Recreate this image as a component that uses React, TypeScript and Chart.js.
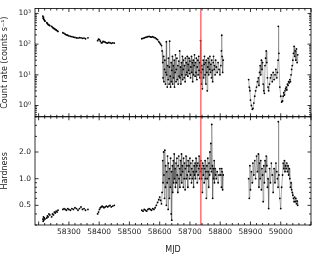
import React, { useEffect, useRef } from "react";
import { Chart, registerables } from "chart.js";

Chart.register(...registerables);

// MJD of each observation (null values in the series break the line at gaps)
const mjd = [
  58214, 58215, 58216, 58217, 58219, 58221, 58224,
  58227, 58229, 58231, 58234, 58237, 58240,
  58243, 58246, 58249, 58252, 58255, 58258, 58261, 58264, 58272,
  58280, 58284, 58288, 58292, 58296, 58300, 58305, 58310, 58315, 58320, 58325, 58330, 58335, 58340, 58345, 58350, 58355, 58359,
  58363, 58380,
  58395, 58398, 58401, 58404, 58407, 58410, 58413, 58416, 58420, 58424, 58428, 58432, 58436, 58440, 58445, 58450, 58500,
  58541, 58545, 58549, 58553, 58557, 58561, 58565, 58569, 58573, 58577, 58581, 58585, 58589, 58593, 58597, 58600, 58603, 58606,
  58608, 58610, 58611, 58613, 58614, 58616, 58617, 58619, 58620, 58622, 58623, 58625, 58626, 58628, 58629, 58631, 58632, 58633,
  58635, 58636, 58638, 58639, 58640, 58642, 58643, 58645, 58646, 58648, 58649, 58651, 58652, 58654, 58655, 58657, 58658, 58660,
  58661, 58663, 58664, 58666, 58667, 58669, 58670, 58672, 58673, 58675, 58676, 58678, 58679, 58681, 58682, 58684, 58685, 58687,
  58688, 58690, 58691, 58693, 58694, 58696, 58697, 58699, 58700, 58702, 58703, 58705, 58706, 58708, 58709, 58711, 58712, 58714,
  58715, 58717, 58718, 58720, 58721, 58723, 58724, 58726, 58727, 58729, 58730, 58732, 58733, 58735, 58736, 58738, 58739, 58741,
  58742, 58744, 58745, 58747, 58748, 58750, 58751, 58753, 58754, 58756, 58757, 58759, 58760, 58762, 58763, 58765, 58766, 58768,
  58769, 58771, 58772, 58774, 58775, 58777, 58778, 58780, 58781, 58783, 58785, 58787, 58790, 58793, 58796, 58799, 58802, 58804,
  58805, 58806, 58808, 58810, 58850,
  58894, 58896, 58898, 58900, 58903, 58906, 58908, 58911, 58914, 58917, 58920, 58923, 58926, 58928, 58930, 58932, 58934, 58936,
  58938, 58940, 58942, 58944, 58946, 58948, 58950, 58952, 58954, 58956, 58958, 58960, 58963, 58966, 58969, 58972, 58975, 58978,
  58981, 58984, 58987, 58989, 58991, 58992, 58994, 58997, 59000, 59003, 59006, 59008, 59010, 59012, 59014, 59016, 59018, 59020,
  59022, 59024, 59026, 59028, 59030, 59032, 59034, 59036, 59038, 59040, 59042, 59044, 59046, 59048, 59050, 59052, 59054, 59056,
];

// Count rate (counts s^-1)
const rate = [
  820, 700, 760, 650, 600, 560, null,
  500, 470, 440, 420, 400, null,
  380, 350, 330, 320, 300, 290, 275, 260, null,
  235, 225, 210, 200, 195, 185, 180, 175, 170, 165, 160, 158, 162, 160, 155, 157, 150, null,
  160, null,
  130, 145, 140, 125, 110, 112, 122, 120, 115, 110, 108, 114, 110, 106, 110, 108, null,
  150, 155, 160, 165, 170, 175, 180, 172, 168, 175, 165, 160, 150, 140, 120, 110, 100, 90,
  60, 25, 8, 40, 6, 15, 30, 5, 12, 120, 10, 4, 20, 7, 35, 5, 18, 125,
  9, 4, 25, 6, 14, 40, 5, 20, 8, 30, 4, 12, 45, 6, 15, 35, 7, 20,
  5, 28, 9, 60, 8, 18, 5, 25, 10, 40, 7, 15, 30, 8, 20, 6, 35, 10,
  25, 12, 40, 9, 22, 14, 35, 11, 28, 8, 18, 40, 12, 25, 6, 30, 10, 20,
  45, 9, 25, 12, 35, 7, 18, 30, 10, 40, 14, 25, 8, 130, 12, 5, 20, 3.5,
  15, 30, 8, 22, 40, 10, 25, 5, 30, 12, 3, 18, 35, 10, 25, 15, 40, 12,
  22, 8, 30, 14, 6, 25, 40, 15, 20, 10, 30, 18, 12, 25, 15, 10, 20, 60,
  195, 40, 12, 30, null,
  7, 4, 3, 1.5, 1.0, 0.75, 0.8, 1.2, 2.0, 3, 4, 6, 8, 4.5, 12, 20, 10, 30,
  15, 25, 5, 3, 2.5, 20, 35, 60, 25, 8, 4, 3, 5, 8, 10, 6, 12, 7,
  10, 15, 8, 12, 30, 380, 50, 4, 2, 1.3, 1.4, 2, 2.6, 2.2, 3, 3.5, 4, 3.2,
  5, 4.5, 6, 5.5, 7, 6, 10, 15, 20, 30, 50, 85, 40, 60, 30, 70, 25, 45,
];

// Hardness ratio
const hardness = [
  0.35, 0.33, 0.37, 0.34, 0.36, 0.35, null,
  0.36, 0.38, 0.37, 0.40, 0.39, null,
  0.37, 0.40, 0.39, 0.42, 0.41, 0.43, 0.42, 0.44, null,
  0.45, 0.46, 0.45, 0.44, 0.46, 0.45, 0.44, 0.46, 0.45, 0.47, 0.46, 0.44, 0.46, 0.48, 0.45, 0.46, 0.44, null,
  0.45, null,
  0.40, 0.42, 0.45, 0.47, 0.48, 0.49, 0.48, 0.47, 0.48, 0.49, 0.48, 0.49, 0.50, 0.48, 0.49, 0.50, null,
  0.44, 0.43, 0.45, 0.44, 0.43, 0.45, 0.46, 0.45, 0.44, 0.46, 0.45, 0.47, 0.50, 0.54, 0.58, 0.62, 0.57, 0.52,
  0.7, 1.6, 0.9, 2.0, 1.1, 0.6, 2.1, 0.8, 1.4, 0.5, 1.2, 0.9, 1.8, 0.45, 1.5, 1.0, 0.6, 1.3,
  0.8, 1.7, 0.4, 1.2, 0.34, 1.4, 0.7, 1.6, 0.9, 1.9, 1.0, 1.3, 0.8, 1.5, 0.9, 1.7, 1.1, 0.7,
  1.4, 1.8, 1.0, 1.3, 0.8, 1.6, 1.1, 1.9, 0.9, 1.4, 1.2, 0.8, 1.7, 1.0, 1.5, 0.75, 1.3, 1.8,
  1.0, 1.4, 1.1, 0.8, 1.6, 1.2, 1.4, 1.0, 1.7, 1.1, 1.5, 0.9, 1.3, 1.0, 1.6, 1.2, 0.8, 1.4,
  1.1, 1.5, 1.0, 1.7, 1.2, 1.4, 0.9, 1.5, 1.1, 1.3, 1.8, 1.0, 1.4, 1.2, 1.6, 1.0, 1.3, 0.7,
  1.5, 1.1, 1.4, 0.9, 1.3, 1.6, 1.0, 1.2, 0.6, 1.4, 1.0, 1.7, 1.2, 0.8, 1.5, 1.1, 2.0, 1.3,
  2.5, 1.2, 4.1, 1.4, 0.6, 1.3, 1.0, 1.6, 0.9, 1.3, 1.1, 1.0, 1.2, 0.9, 1.1, 1.3, 1.1, 0.8,
  1.3, 1.2, 0.75, 1.1, null,
  1.0, 0.6, 1.4, 0.75, 1.2, 0.9, 1.5, 1.1, 1.6, 1.0, 1.8, 1.2, 1.9, 0.8, 1.5, 1.0, 1.6, 0.75,
  1.3, 1.1, 0.55, 1.4, 0.9, 1.6, 1.2, 1.8, 1.4, 0.8, 1.0, 0.46, 1.3, 0.9, 1.5, 1.1, 0.7, 1.3,
  0.9, 1.5, 1.2, 1.0, 0.8, 4.4, 1.1, 0.6, 0.46, 0.8, 1.1, 1.5, 1.3, 1.6, 1.2, 1.4, 1.3, 1.5,
  1.2, 1.4, 1.1, 1.3, 1.0, 0.8, 0.9, 0.75, 0.7, 0.65, 0.6, 0.55, 0.62, 0.55, 0.6, 0.52, 0.56, 0.5,
];

const markerMjd = 58736;
const rateTicks = [1, 10, 100, 1000];
const hardTicks = [0.5, 1, 2];
const hardTickLabels = ["0.5", "1.0", "2.0"];

const SUP: Record<string, string> = { "0": "⁰", "1": "¹", "2": "²", "3": "³", "4": "⁴", "-": "⁻" };
const FONT = "'DejaVu Sans', sans-serif";

const framePlugin = {
  id: "frame",
  afterDatasetsDraw(chart: any) {
    const ctx = chart.ctx;
    const xs = chart.scales.x;
    const panels = [chart.scales.yA, chart.scales.yB];
    const { left, right } = chart.chartArea;
    ctx.save();
    const rx = xs.getPixelForValue(markerMjd);
    ctx.strokeStyle = "rgba(255,60,60,0.85)";
    ctx.lineWidth = 1.3;
    ctx.beginPath();
    ctx.moveTo(rx, Math.min(panels[0].top, panels[1].top));
    ctx.lineTo(rx, Math.max(panels[0].bottom, panels[1].bottom));
    ctx.stroke();

    ctx.strokeStyle = "#000";
    ctx.lineWidth = 0.8;
    const line = (x1: number, y1: number, x2: number, y2: number) => {
      ctx.beginPath();
      ctx.moveTo(x1, y1);
      ctx.lineTo(x2, y2);
      ctx.stroke();
    };
    for (const s of panels) {
      ctx.strokeRect(left, s.top, right - left, s.bottom - s.top);
    }
    for (let v = 58200; v <= 59100; v += 20) {
      const px = xs.getPixelForValue(v);
      if (px < left || px > right) continue;
      const len = v % 100 === 0 ? 3.5 : 2;
      for (const s of panels) {
        line(px, s.top, px, s.top + len);
        line(px, s.bottom, px, s.bottom - len);
      }
    }
    const majors = [rateTicks, hardTicks];
    panels.forEach((s: any, i: number) => {
      for (let d = -1; d <= 3; d++) {
        for (let m = 1; m <= 9; m++) {
          const v = m * Math.pow(10, d);
          if (v < s.min || v > s.max) continue;
          const py = s.getPixelForValue(v);
          const major = majors[i].some((t) => Math.abs(t - v) < 1e-9);
          const len = major ? 3.5 : 2;
          line(left, py, left + len, py);
          line(right, py, right - len, py);
        }
      }
    });
    ctx.restore();
  },
};

export default function App() {
  const ref = useRef<HTMLCanvasElement>(null);
  useEffect(() => {
    if (!ref.current) return;
    const ptsRate = mjd.map((m, i) => ({ x: m, y: rate[i] }));
    const ptsHard = mjd.map((m, i) => ({ x: m, y: hardness[i] }));
    const ds = {
      borderColor: "rgba(90,90,90,0.8)",
      borderWidth: 0.6,
      pointRadius: 0.9,
      pointBackgroundColor: "#000",
      pointBorderWidth: 0,
      spanGaps: false,
      tension: 0,
    };
    const tickFont = { family: FONT, size: 7.5 };
    const chart = new Chart(ref.current, {
      type: "line",
      data: {
        datasets: [
          { ...ds, data: ptsRate, yAxisID: "yA" } as any,
          { ...ds, data: ptsHard, yAxisID: "yB" } as any,
        ],
      },
      options: {
        animation: false,
        responsive: false,
        events: [],
        layout: { padding: { left: 0, top: 5, right: 8, bottom: 0 } },
        plugins: { legend: { display: false }, tooltip: { enabled: false } },
        scales: {
          x: {
            type: "linear",
            position: "bottom",
            min: 58188,
            max: 59100,
            grid: { display: false, drawTicks: false },
            border: { display: false },
            afterBuildTicks: (s: any) => {
              s.ticks = [58300, 58400, 58500, 58600, 58700, 58800, 58900, 59000].map((v) => ({ value: v }));
            },
            ticks: {
              padding: 3,
              maxRotation: 0,
              autoSkip: false,
              color: "#222",
              font: tickFont,
              callback: (v: any) => String(v),
            },
            title: { display: true, text: "MJD", color: "#222", font: { family: FONT, size: 8 }, padding: { top: 6, bottom: 0 } },
            afterFit: (s: any) => {
              s.height = 30;
            },
          },
          yB: {
            type: "logarithmic",
            position: "left",
            stack: "panels",
            stackWeight: 1,
            min: 0.3,
            max: 5,
            grid: { display: false, drawTicks: false },
            border: { display: false },
            afterBuildTicks: (s: any) => {
              s.ticks = hardTicks.map((v) => ({ value: v }));
            },
            ticks: {
              padding: 4,
              color: "#222",
              font: tickFont,
              callback: (v: any) => {
                const i = hardTicks.findIndex((t) => Math.abs(t - v) < 1e-9);
                return i >= 0 ? hardTickLabels[i] : "";
              },
            },
            title: { display: true, text: "Hardness", color: "#222", font: { family: FONT, size: 8 }, padding: { top: 0, bottom: 0 } },
            afterFit: (s: any) => {
              s.width = 35;
            },
          },
          yA: {
            type: "logarithmic",
            position: "left",
            stack: "panels",
            stackWeight: 1,
            min: 0.43,
            max: 1450,
            grid: { display: false, drawTicks: false },
            border: { display: false },
            afterBuildTicks: (s: any) => {
              s.ticks = rateTicks.map((v) => ({ value: v }));
            },
            ticks: {
              padding: 4,
              color: "#222",
              font: tickFont,
              callback: (v: any) => "10" + String(Math.round(Math.log10(v))).split("").map((c) => SUP[c]).join(""),
            },
            title: { display: true, text: "Count rate (counts s⁻¹)", color: "#222", font: { family: FONT, size: 8 }, padding: { top: 0, bottom: 0 } },
            afterFit: (s: any) => {
              s.width = 35;
            },
          },
        },
      },
      plugins: [framePlugin],
    } as any);
    return () => chart.destroy();
  }, []);
  return (
    <div style={{ position: "fixed", left: 0, top: 0, width: 319, height: 255, background: "#fff" }}>
      <canvas ref={ref} width={319} height={255} style={{ width: 319, height: 255, display: "block" }} />
    </div>
  );
}
